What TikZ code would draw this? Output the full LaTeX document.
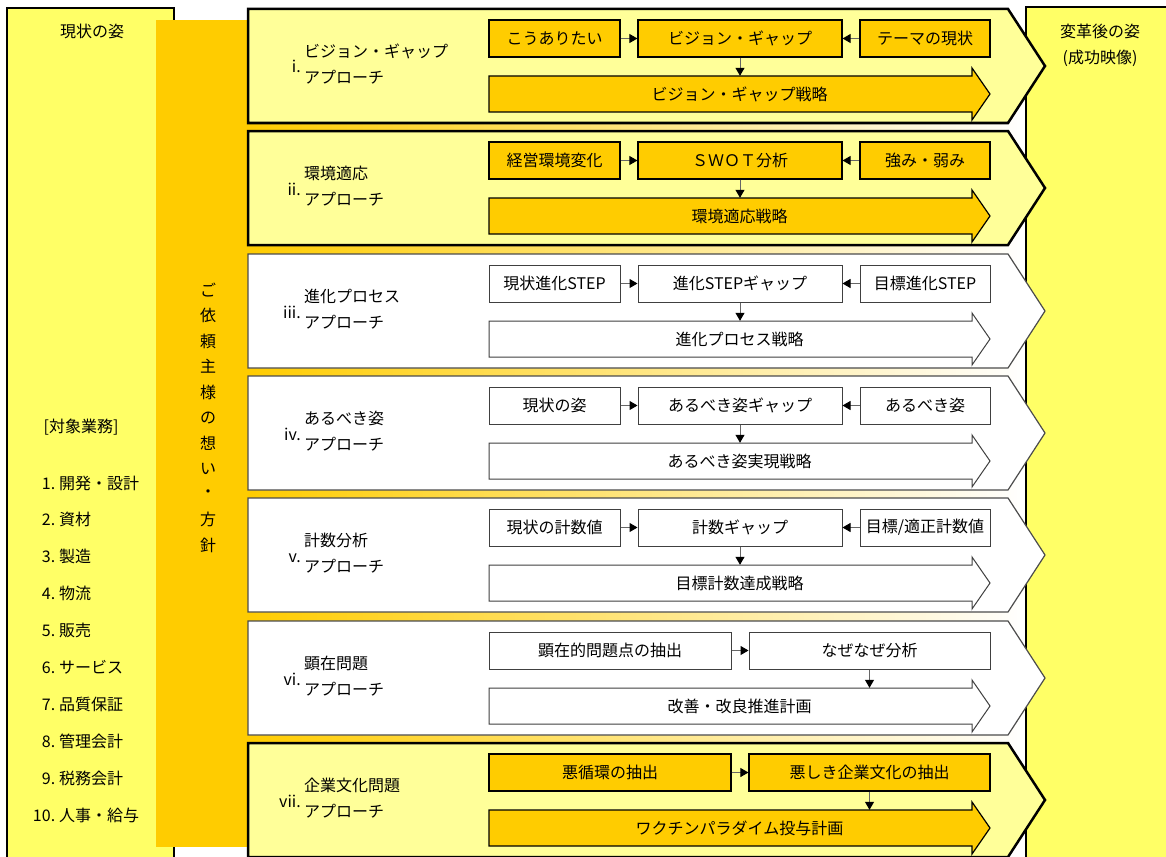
\documentclass[tikz,border=0pt]{standalone}
\usepackage{fontspec}
\setmainfont{Noto Sans CJK JP}
\usetikzlibrary{arrows.meta}
\definecolor{bandgold}{HTML}{FFCC00}
\definecolor{sideyellow}{HTML}{FFFF66}
\definecolor{paleyellow}{HTML}{FFFF99}

\begin{document}
\begin{tikzpicture}[x=1pt, y=-1pt, font=\fontsize{16}{19}\selectfont]
\tikzset{
  sidebox/.style={draw, line width=2.5pt, fill=sideyellow},
  panelY/.style={draw, line width=2.5pt, line join=miter, fill=paleyellow},
  panelW/.style={draw=black!70, line width=1.2pt, line join=miter, fill=white},
  boxG/.style={draw, line width=1.2pt, fill=bandgold, minimum height=37pt, inner sep=0pt},
  boxW/.style={draw=black!75, line width=1pt, fill=white, minimum height=37pt, inner sep=0pt},
  stratG/.style={draw, line width=1.2pt, line join=miter, fill=bandgold},
  stratW/.style={draw=black!75, line width=1pt, line join=miter, fill=white},
  strat/.style={minimum width=501pt, minimum height=36pt, inner sep=0pt},
  num/.style={anchor=base east, inner sep=0pt, font=\fontsize{16}{16}\selectfont},
  lbl/.style={anchor=west, align=left, inner sep=0pt, font=\fontsize{16}{26}\selectfont},
  link/.style={draw=black!60, line width=1pt, -{Triangle[length=8pt, width=9pt, color=black]}}
}
\useasboundingbox (0,0) rectangle (1166,856);
\clip (0,0) rectangle (1166,856);
\fill[white] (0,0) rectangle (1166,856);
\draw[sidebox] (7,8) rectangle (174,880);
\draw[sidebox] (1026,7) rectangle (1190,880);
\fill[bandgold] (156,20) rectangle (248,847);
\fill[left color=bandgold, right color=white] (248,20) rectangle (1024,847);
\node (Now) at (92,31) {現状の姿};
\node[align=center, font=\fontsize{16}{26}\selectfont] (After) at (1100,45) {変革後の姿\\(成功映像)};
\node (Scope) at (81,427) {[対象業務]};
\foreach \n/\t [count=\i] in {1/開発・設計, 2/資材, 3/製造, 4/物流, 5/販売, 6/サービス, 7/品質保証, 8/管理会計, 9/税務会計, 10/人事・給与}
  \node[anchor=west, inner sep=0pt] (L\i) at (59,{483+36.9*(\i-1)}) {\llap{\n.\hspace{4pt}}\t};
\foreach \c [count=\i] in {ご,依,頼,主,様,の,想,い,・,方,針}
  \node (V\i) at (208,{290+25.5*(\i-1)}) {\c};

\begin{scope}[shift={(0,9)}]
\draw[panelY] (248,0) -- (1008,0) -- (1045,57) -- (1008,114) -- (248,114) -- cycle;
\node[num] (N1) at (301,64) {i.};
\node[lbl] (T1) at (304,55) {ビジョン・ギャップ\\アプローチ};
\node[boxG, minimum width=131pt] (A1) at (554.5,29.5) {こうありたい};
\node[boxG, minimum width=204pt] (B1) at (740,29.5) {ビジョン・ギャップ};
\node[boxG, minimum width=130pt] (C1) at (925,29.5) {テーマの現状};
\draw[stratG] (489,67) -- (972,67) -- (972,59) -- (990,85) -- (972,111) -- (972,103) -- (489,103) -- cycle;
\node[strat] (S1) at (739.5,85) {ビジョン・ギャップ戦略};
\draw[link] (A1) -- (B1);
\draw[link] (C1) -- (B1);
\draw[link] (B1) -- (B1 |- S1.north);
\end{scope}

\begin{scope}[shift={(0,131)}]
\draw[panelY] (248,0) -- (1008,0) -- (1045,57) -- (1008,114) -- (248,114) -- cycle;
\node[num] (N2) at (301,64) {ii.};
\node[lbl] (T2) at (304,55) {環境適応\\アプローチ};
\node[boxG, minimum width=131pt] (A2) at (554.5,29.5) {経営環境変化};
\node[boxG, minimum width=204pt] (B2) at (740,29.5) {ＳＷＯＴ分析};
\node[boxG, minimum width=130pt] (C2) at (925,29.5) {強み・弱み};
\draw[stratG] (489,67) -- (972,67) -- (972,59) -- (990,85) -- (972,111) -- (972,103) -- (489,103) -- cycle;
\node[strat] (S2) at (739.5,85) {環境適応戦略};
\draw[link] (A2) -- (B2);
\draw[link] (C2) -- (B2);
\draw[link] (B2) -- (B2 |- S2.north);
\end{scope}

\begin{scope}[shift={(0,254)}]
\draw[panelW] (248,0) -- (1008,0) -- (1045,57) -- (1008,114) -- (248,114) -- cycle;
\node[num] (N3) at (301,64) {iii.};
\node[lbl] (T3) at (304,55) {進化プロセス\\アプローチ};
\node[boxW, minimum width=131pt] (A3) at (554.5,29.5) {現状進化STEP};
\node[boxW, minimum width=204pt] (B3) at (740,29.5) {進化STEPギャップ};
\node[boxW, minimum width=130pt] (C3) at (925,29.5) {目標進化STEP};
\draw[stratW] (489,67) -- (972,67) -- (972,59) -- (990,85) -- (972,111) -- (972,103) -- (489,103) -- cycle;
\node[strat] (S3) at (739.5,85) {進化プロセス戦略};
\draw[link] (A3) -- (B3);
\draw[link] (C3) -- (B3);
\draw[link] (B3) -- (B3 |- S3.north);
\end{scope}

\begin{scope}[shift={(0,376)}]
\draw[panelW] (248,0) -- (1008,0) -- (1045,57) -- (1008,114) -- (248,114) -- cycle;
\node[num] (N4) at (301,64) {iv.};
\node[lbl] (T4) at (304,55) {あるべき姿\\アプローチ};
\node[boxW, minimum width=131pt] (A4) at (554.5,29.5) {現状の姿};
\node[boxW, minimum width=204pt] (B4) at (740,29.5) {あるべき姿ギャップ};
\node[boxW, minimum width=130pt] (C4) at (925,29.5) {あるべき姿};
\draw[stratW] (489,67) -- (972,67) -- (972,59) -- (990,85) -- (972,111) -- (972,103) -- (489,103) -- cycle;
\node[strat] (S4) at (739.5,85) {あるべき姿実現戦略};
\draw[link] (A4) -- (B4);
\draw[link] (C4) -- (B4);
\draw[link] (B4) -- (B4 |- S4.north);
\end{scope}

\begin{scope}[shift={(0,498)}]
\draw[panelW] (248,0) -- (1008,0) -- (1045,57) -- (1008,114) -- (248,114) -- cycle;
\node[num] (N5) at (301,64) {v.};
\node[lbl] (T5) at (304,55) {計数分析\\アプローチ};
\node[boxW, minimum width=131pt] (A5) at (554.5,29.5) {現状の計数値};
\node[boxW, minimum width=204pt] (B5) at (740,29.5) {計数ギャップ};
\node[boxW, minimum width=130pt] (C5) at (925,29.5) {目標/適正計数値};
\draw[stratW] (489,67) -- (972,67) -- (972,59) -- (990,85) -- (972,111) -- (972,103) -- (489,103) -- cycle;
\node[strat] (S5) at (739.5,85) {目標計数達成戦略};
\draw[link] (A5) -- (B5);
\draw[link] (C5) -- (B5);
\draw[link] (B5) -- (B5 |- S5.north);
\end{scope}

\begin{scope}[shift={(0,621)}]
\draw[panelW] (248,0) -- (1008,0) -- (1045,57) -- (1008,114) -- (248,114) -- cycle;
\node[num] (N6) at (301,64) {vi.};
\node[lbl] (T6) at (304,55) {顕在問題\\アプローチ};
\node[boxW, minimum width=242pt] (A6) at (610,29.5) {顕在的問題点の抽出};
\node[boxW, minimum width=241pt] (B6) at (869.5,29.5) {なぜなぜ分析};
\draw[stratW] (489,67) -- (972,67) -- (972,59) -- (990,85) -- (972,111) -- (972,103) -- (489,103) -- cycle;
\node[strat] (S6) at (739.5,85) {改善・改良推進計画};
\draw[link] (A6) -- (B6);
\draw[link] (B6) -- (B6 |- S6.north);
\end{scope}

\begin{scope}[shift={(0,743)}]
\draw[panelY] (248,0) -- (1008,0) -- (1045,57) -- (1008,114) -- (248,114) -- cycle;
\node[num] (N7) at (301,64) {vii.};
\node[lbl] (T7) at (304,55) {企業文化問題\\アプローチ};
\node[boxG, minimum width=242pt] (A7) at (610,29.5) {悪循環の抽出};
\node[boxG, minimum width=241pt] (B7) at (869.5,29.5) {悪しき企業文化の抽出};
\draw[stratG] (489,67) -- (972,67) -- (972,59) -- (990,85) -- (972,111) -- (972,103) -- (489,103) -- cycle;
\node[strat] (S7) at (739.5,85) {ワクチンパラダイム投与計画};
\draw[link] (A7) -- (B7);
\draw[link] (B7) -- (B7 |- S7.north);
\end{scope}
\end{tikzpicture}
\end{document}
